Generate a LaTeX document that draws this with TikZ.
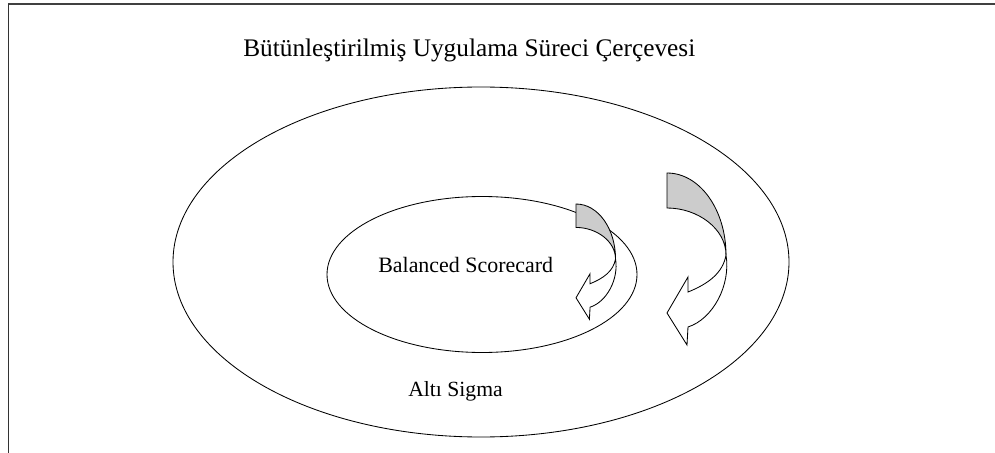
\documentclass[tikz,border=0pt]{standalone}
\usepackage{fontspec}
\setmainfont{Liberation Serif}
\usepackage{tikz}

\begin{document}
\begin{tikzpicture}[x=0.025cm,y=-0.025cm,
  ring/.style={draw, line width=0.6pt},
  backband/.style={draw, line width=0.6pt, fill=gray!40},
  frontband/.style={draw, line width=0.6pt, fill=white, line join=miter}]
  \useasboundingbox (0,0) rectangle (995,453);
  % Frame
  \draw[line width=1.4pt, black!75] (8,4) -- (995,4);
  \draw[line width=0.6pt, black!80] (8,4) -- (8,453);
  % Ellipses
  \draw[ring] (481,262) ellipse [x radius=308, y radius=175];
  \draw[ring] (482,274.5) ellipse [x radius=155, y radius=78];
  % Labels
  \node[anchor=base west, inner sep=0pt, font=\fontsize{18}{20}\selectfont] (title) at (243,57) {Bütünleştirilmiş Uygulama Süreci Çerçevesi};
  \node[anchor=base west, inner sep=0pt, font=\fontsize{15.6}{18}\selectfont] (bsc) at (378,272) {Balanced Scorecard};
  \node[anchor=base west, inner sep=0pt, font=\fontsize{15.4}{18}\selectfont] (sigma) at (408,396) {Altı Sigma};
  % Curved arrows
  \foreach \ox/\oy/\s in {576/204/0.67, 667/173/1} {
    \begin{scope}[shift={(\ox,\oy)}, scale=\s]
      \draw[backband] (0,0) .. controls (33,0) and (59,37) .. (59,82)
        .. controls (59,56) and (31,35) .. (0,35) -- cycle;
      \draw[frontband] (59,82) .. controls (64,112) and (46,146) .. (21,154)
        -- (20,172) -- (0,140) -- (21,104) -- (21,119)
        .. controls (41,111) and (56,100) .. (59,82) -- cycle;
    \end{scope}
  }
\end{tikzpicture}
\end{document}
